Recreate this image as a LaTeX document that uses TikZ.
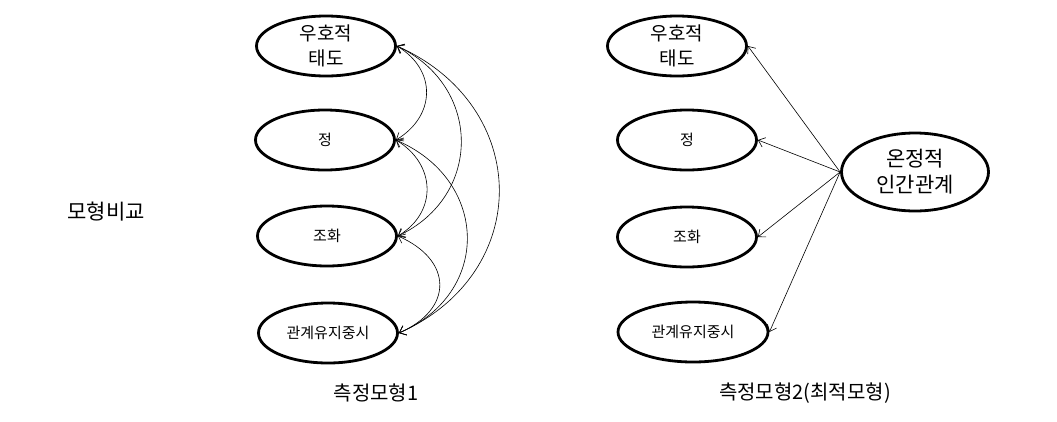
\documentclass[tikz,border=0pt]{standalone}
\usepackage{fontspec}
\setmainfont{Noto Sans CJK KR}
\usetikzlibrary{shapes.geometric,arrows.meta}
\begin{document}
\begin{tikzpicture}[x=1pt,y=-1pt,
  factor/.style={draw,ellipse,line width=2.8pt,minimum width=139pt,minimum height=60pt,inner sep=0pt,align=center,font=\fontsize{15}{18}\selectfont},
  bigtext/.style={font=\fontsize{19}{25}\selectfont},
  caption/.style={font=\fontsize{20}{24}\selectfont},
  link/.style={line width=0.6pt,-{Straight Barb[length=6pt,width=10pt]}},
  corr/.style={line width=0.6pt,{Straight Barb[length=6pt,width=10pt]}-{Straight Barb[length=6pt,width=10pt]}}]
\useasboundingbox (0,0) rectangle (1057,421);
 % left title:
\node[font=\fontsize{21}{24}\selectfont] (title) at (106,212) {모형비교};
 % model 1:
\node[factor,bigtext] (a1) at (326,46) {우호적\\태도};
\node[factor] (b1) at (325,140) {정};
\node[factor] (c1) at (327,236) {조화};
\node[factor] (d1) at (328,333) {관계유지중시};
\draw[corr] (a1.east) .. controls +(40,24) and +(40,-24) .. (b1.east);
\draw[corr] (b1.east) .. controls +(40,24) and +(40,-24) .. (c1.east);
\draw[corr] (c1.east) .. controls +(55,24) and +(55,-24) .. (d1.east);
\draw[corr] (a1.east) .. controls +(85,40) and +(85,-40) .. (c1.east);
\draw[corr] (b1.east) .. controls +(93,40) and +(93,-40) .. (d1.east);
\draw[corr] (a1.east) .. controls +(135,60) and +(135,-60) .. (d1.east);
\node[caption] (cap1) at (376,393) {측정모형1};
 % model 2:
\node[factor,bigtext] (a2) at (677,46) {우호적\\태도};
\node[factor] (b2) at (687,140) {정};
\node[factor] (c2) at (687,237) {조화};
\node[factor,minimum width=150pt] (d2) at (693,332) {관계유지중시};
\node[factor,minimum width=147pt,minimum height=78pt,font=\fontsize{21}{26}\selectfont] (e2) at (915,172) {온정적\\인간관계};
\foreach \t in {a2,b2,c2,d2}
  \draw[link] (e2.west) -- (\t.east);
\node[caption] (cap2) at (805,393) {측정모형2(최적모형)};
\end{tikzpicture}
\end{document}
